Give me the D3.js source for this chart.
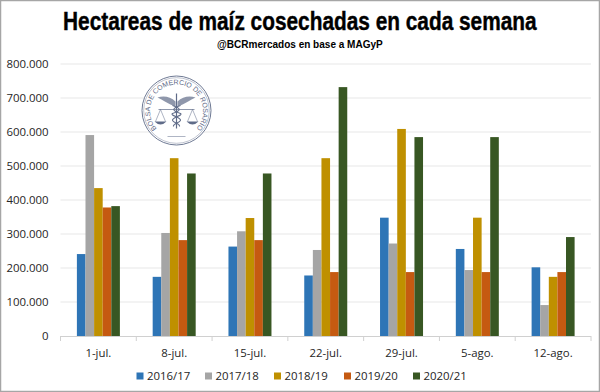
<!DOCTYPE html>
<html>
<head>
<meta charset="utf-8">
<script src="https://cdn.jsdelivr.net/npm/d3@7"></script>
<style>
html, body { margin: 0; padding: 0; background: #fff; }
svg { display: block; }
.axis text { font-family: "Open Sans", sans-serif; font-size: 11.4px; fill: #262626; }
</style>
</head>
<body>
<div id="chart"></div>
<script>
var weeks = ["1-jul.", "8-jul.", "15-jul.", "22-jul.", "29-jul.", "5-ago.", "12-ago."];
var campaigns = ["2016/17", "2017/18", "2018/19", "2019/20", "2020/21"];
var colors = ["#2e75b6", "#a5a5a5", "#bf9000", "#c55a11", "#385723"];

var s1617 = [241000, 174000, 263000, 178000, 348000, 256000, 202000];
var s1718 = [591000, 303000, 308000, 253000, 272000, 194000, 91000];
var s1819 = [435000, 523000, 347000, 523000, 609000, 348000, 174000];
var s1920 = [378000, 282000, 282000, 188000, 188000, 188000, 188000];
var s2021 = [382000, 478000, 478000, 732000, 585000, 585000, 291000];
var seriesValues = [s1617, s1718, s1819, s1920, s2021];

var yTicks = [0, 100000, 200000, 300000, 400000, 500000, 600000, 700000, 800000];

var width = 600, height = 392;
var plot = {left: 60.5, right: 591, top: 64, bottom: 336};

var svg = d3.select("#chart").append("svg")
	.attr("width", width)
	.attr("height", height);

// outer frame of the image
svg.append("rect")
	.attr("x", 0.5).attr("y", 0.5)
	.attr("width", width - 1).attr("height", height - 1)
	.attr("fill", "#fff")
	.attr("stroke", "#a6a6a6")
	.attr("stroke-width", 1.5);

var y = d3.scaleLinear().domain([0, 800000]).range([plot.bottom, plot.top]);
var x = d3.scaleBand().domain(weeks).range([plot.left, plot.right]).paddingInner(0).paddingOuter(0);
var xInner = d3.scaleBand().domain(campaigns).range([0, 43]);
var groupOffset = (x.bandwidth() - 43) / 2;

// horizontal grid
svg.append("g").selectAll("line")
	.data(yTicks.slice(1))
	.enter().append("line")
	.attr("x1", plot.left)
	.attr("x2", plot.right)
	.attr("y1", function(d) { return y(d); })
	.attr("y2", function(d) { return y(d); })
	.attr("stroke", "#e7e7e7")
	.attr("stroke-width", 1.2);

drawLogo(svg.append("g").attr("transform", "translate(176.5,110.5)"));

// bars
campaigns.forEach(function(c, i) {
	svg.append("g")
		.attr("fill", colors[i])
		.selectAll("rect")
		.data(seriesValues[i])
		.enter().append("rect")
		.attr("x", function(d, j) { return x(weeks[j]) + groupOffset + xInner(c); })
		.attr("width", xInner.bandwidth())
		.attr("y", function(d) { return y(d); })
		.attr("height", function(d) { return y(0) - y(d); });
});

// axes
var yAxis = d3.axisLeft(y)
	.tickValues(yTicks)
	.tickSize(0)
	.tickPadding(12)
	.tickFormat(function(d) { return d3.format(",")(d).replace(/,/g, "."); });
svg.append("g").attr("class", "axis y")
	.attr("transform", "translate(" + plot.left + ",0)")
	.call(yAxis)
	.call(function(g) { g.select(".domain").remove(); });

var xAxis = d3.axisBottom(x).tickSize(0).tickPadding(13);
var xG = svg.append("g").attr("class", "axis x")
	.attr("transform", "translate(0," + plot.bottom + ")")
	.call(xAxis);
xG.select(".domain").attr("stroke", "#d0d0d0").attr("d", "M" + plot.left + ",0.5H" + plot.right);

// tick marks sit between the weeks, on the band edges
xG.selectAll(".edge")
	.data(weeks.map(function(d) { return x(d); }).concat([plot.right]))
	.enter().append("line")
	.attr("x1", function(d) { return d; })
	.attr("x2", function(d) { return d; })
	.attr("y1", 0)
	.attr("y2", 5)
	.attr("stroke", "#d0d0d0");

// titles, squeezed with a scale since there is no narrow font installed
function squeezed(txt, left, base, wanted, size, weight) {
	var t = svg.append("text")
		.attr("font-family", "'Liberation Sans', sans-serif")
		.attr("font-weight", "bold")
		.attr("font-size", size)
		.attr("fill", "#000")
		.attr("stroke", "#000")
		.attr("stroke-width", weight)
		.text(txt);
	var sx = wanted / t.node().getComputedTextLength();
	t.attr("transform", "translate(" + left + "," + base + ") scale(" + sx + ",1)");
}
squeezed("Hectareas de maíz cosechadas en cada semana", 63, 30, 474, 25, 0.4);
squeezed("@BCRmercados  en base a MAGyP", 217, 48, 166, 11, 0);

// legend
var legendX = [136.5, 205, 274, 344, 413];
var legend = svg.append("g").selectAll("g")
	.data(campaigns)
	.enter().append("g")
	.attr("transform", function(d, i) { return "translate(" + legendX[i] + ",376)"; });
legend.append("rect")
	.attr("y", -3.5)
	.attr("width", 7).attr("height", 7)
	.attr("fill", function(d, i) { return colors[i]; });
legend.append("text")
	.attr("x", 10.5).attr("y", 4)
	.attr("font-family", "'Open Sans', sans-serif")
	.attr("font-size", 11.4)
	.attr("fill", "#262626")
	.text(function(d) { return d; });

// round stamp of the Bolsa, drawn roughly
function drawLogo(g) {
	var ink = "#5f6b88";
	g.append("circle").attr("r", 34.5).attr("fill", "#fff").attr("stroke", ink).attr("stroke-width", 0.9);
	g.append("circle").attr("r", 32.8).attr("fill", "none").attr("stroke", ink).attr("stroke-width", 0.4);
	g.append("path").attr("id", "logoArc").attr("fill", "none")
		.attr("d", "M-19,19A26.5,26.5 0 1 1 19,19");
	g.append("text")
		.attr("font-family", "'Liberation Sans', sans-serif")
		.attr("font-size", 7)
		.attr("fill", ink)
		.append("textPath")
		.attr("href", "#logoArc")
		.attr("startOffset", "50%")
		.attr("text-anchor", "middle")
		.text("BOLSA DE COMERCIO DE ROSARIO");
	// wings
	g.append("path").attr("fill", ink).attr("opacity", 0.7)
		.attr("d", "M-1,-9C-6,-14 -13,-15 -19,-13C-14,-11 -8,-6 -1,-4Z");
	g.append("path").attr("fill", ink).attr("opacity", 0.7)
		.attr("d", "M1,-9C6,-14 13,-15 19,-13C14,-11 8,-6 1,-4Z");
	// staff and snakes
	g.append("line").attr("y1", -17).attr("y2", 18).attr("stroke", ink).attr("stroke-width", 1.2);
	g.append("path").attr("fill", "none").attr("stroke", ink).attr("stroke-width", 1.1)
		.attr("d", "M-4,-5C5,-2 5,0 -4,3C-7,5 5,7 4,10C2,13 -4,13 -3,16");
	g.append("path").attr("fill", "none").attr("stroke", ink).attr("stroke-width", 1.1)
		.attr("d", "M4,-5C-5,-2 -5,0 4,3C7,5 -5,7 -4,10C-2,13 4,13 3,16");
	// scale
	g.append("line").attr("x1", -18).attr("x2", 18).attr("y1", -1).attr("y2", -1).attr("stroke", ink).attr("stroke-width", 0.7);
	[-16, 16].forEach(function(cx) {
		g.append("path").attr("fill", "none").attr("stroke", ink).attr("stroke-width", 0.5)
			.attr("d", "M" + cx + ",-1L" + (cx - 5) + ",11M" + cx + ",-1L" + (cx + 5) + ",11");
		g.append("path").attr("fill", ink)
			.attr("d", "M" + (cx - 6) + ",11H" + (cx + 6) + "Q" + cx + ",17 " + (cx - 6) + ",11Z");
	});
	g.append("line").attr("x1", -9).attr("x2", 9).attr("y1", 26).attr("y2", 26).attr("stroke", ink).attr("stroke-width", 0.5);
}
</script>
</body>
</html>
